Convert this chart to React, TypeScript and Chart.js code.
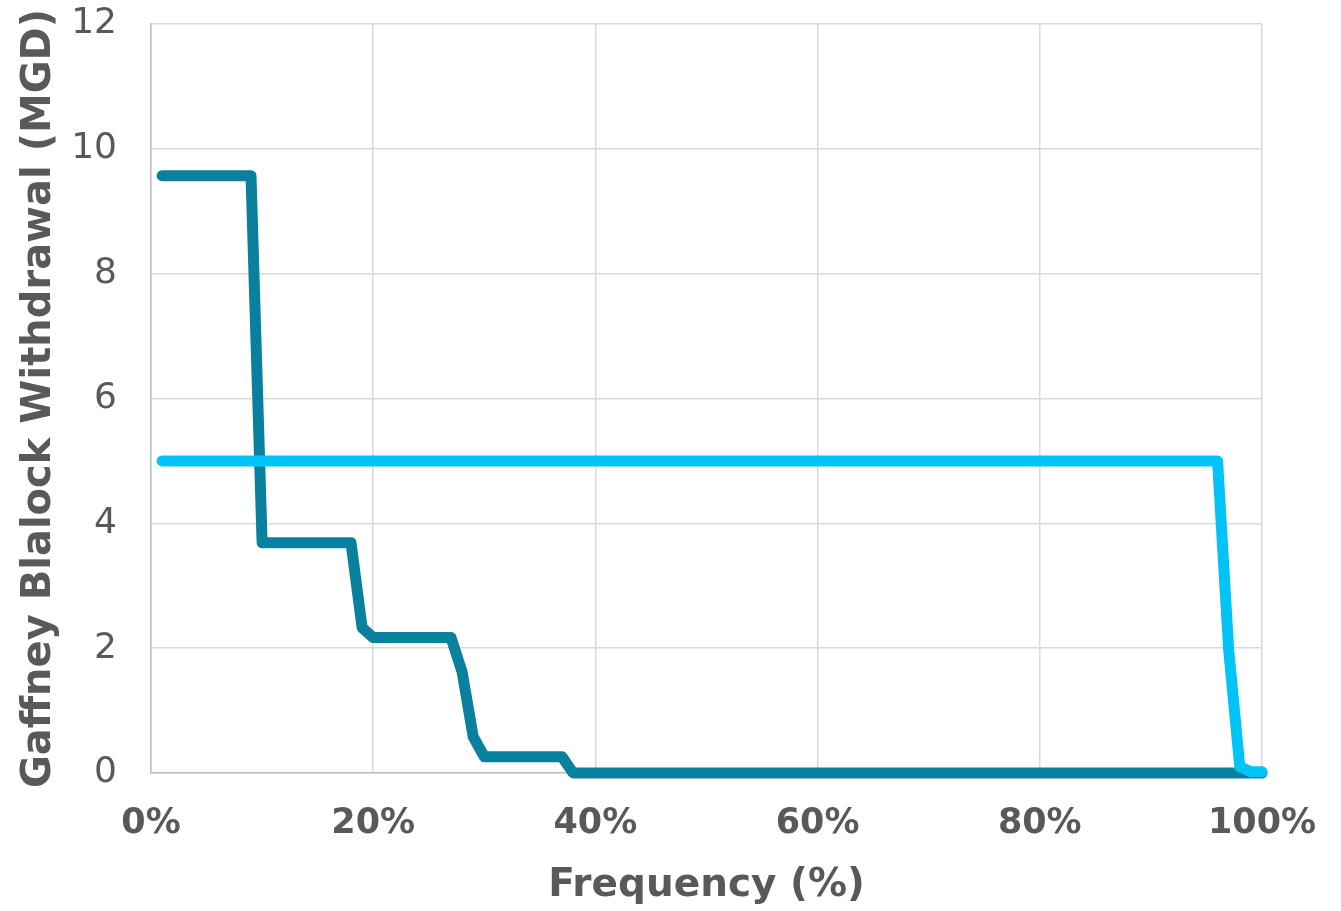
import React, { useEffect, useRef } from "react";
import { Chart, registerables } from "chart.js";

Chart.register(...registerables);

// Frequency (%) break points and withdrawal values (MGD)
const darkFreq = [1, 9, 10, 18, 19, 20, 27, 28, 29, 30, 37, 38, 100];
const darkValues = [9.57, 9.57, 3.69, 3.69, 2.33, 2.17, 2.17, 1.62, 0.58, 0.26, 0.26, 0, 0];

const lightFreq = [1, 96, 97, 98, 99, 100];
const lightValues = [5.0, 5.0, 1.97, 0.1, 0.02, 0.02];

const xTickLabels = ["0%", "20%", "40%", "60%", "80%", "100%"];
const yTickLabels = ["0", "2", "4", "6", "8", "10", "12"];

const xTitle = "Frequency (%)";
const yTitle = "Gaffney Blalock Withdrawal (MGD)";

const FONT = "'DejaVu Sans', sans-serif";
const TEXT = "#595959";

export default function App() {
  const ref = useRef<HTMLCanvasElement | null>(null);

  useEffect(() => {
    if (!ref.current) return;
    const chart = new Chart(ref.current, {
      type: "line",
      data: {
        datasets: [
          {
            label: "Light",
            data: lightFreq.map((x, i) => ({ x, y: lightValues[i] })),
            borderColor: "#00C3F6",
            backgroundColor: "#00C3F6",
            borderWidth: 11,
            pointRadius: 0,
            tension: 0,
            borderJoinStyle: "round",
            borderCapStyle: "round",
            order: 0,
            clip: 10,
          },
          {
            label: "Dark",
            data: darkFreq.map((x, i) => ({ x, y: darkValues[i] })),
            borderColor: "#08809E",
            backgroundColor: "#08809E",
            borderWidth: 11,
            pointRadius: 0,
            tension: 0,
            borderJoinStyle: "round",
            borderCapStyle: "round",
            order: 1,
            clip: 10,
          },
        ],
      },
      options: {
        animation: false,
        responsive: true,
        maintainAspectRatio: false,
        layout: { padding: { top: 24, right: 79, left: 0, bottom: 0 } },
        plugins: { legend: { display: false }, tooltip: { enabled: false } },
        scales: {
          x: {
            type: "linear",
            min: 0,
            max: 100,
            afterFit: (s: any) => {
              s.height = 138;
            },
            ticks: {
              stepSize: 20,
              callback: (_v: any, i: number) => xTickLabels[i],
              font: { family: FONT, size: 35, weight: "bold" },
              color: TEXT,
              padding: 0,
              maxRotation: 0,
            },
            grid: {
              color: "#D9D9D9",
              lineWidth: 1.5,
              drawTicks: true,
              tickLength: 30,
              tickColor: "rgba(0,0,0,0)",
            },
            border: { color: "#BFBFBF", width: 1.5 },
            title: {
              display: true,
              text: xTitle,
              font: { family: FONT, size: 39, weight: "bold" },
              color: TEXT,
              padding: { top: 0, bottom: 2 },
            },
          },
          y: {
            min: 0,
            max: 12,
            afterFit: (s: any) => {
              s.width = 151;
            },
            ticks: {
              stepSize: 2,
              callback: (_v: any, i: number) => yTickLabels[i],
              font: { family: FONT, size: 36 },
              color: TEXT,
              padding: 0,
            },
            grid: {
              color: "#D9D9D9",
              lineWidth: 1.5,
              drawTicks: true,
              tickLength: 34,
              tickColor: "rgba(0,0,0,0)",
            },
            border: { color: "#BFBFBF", width: 1.5 },
            title: {
              display: true,
              text: yTitle,
              font: { family: FONT, size: 40, weight: "bold" },
              color: TEXT,
              padding: { top: 16, bottom: 0 },
            },
          },
        },
      },
    });
    return () => chart.destroy();
  }, []);

  return (
    <div style={{ position: "fixed", left: 0, top: 0, width: 1341, height: 911, background: "#fff" }}>
      <canvas ref={ref} />
    </div>
  );
}
